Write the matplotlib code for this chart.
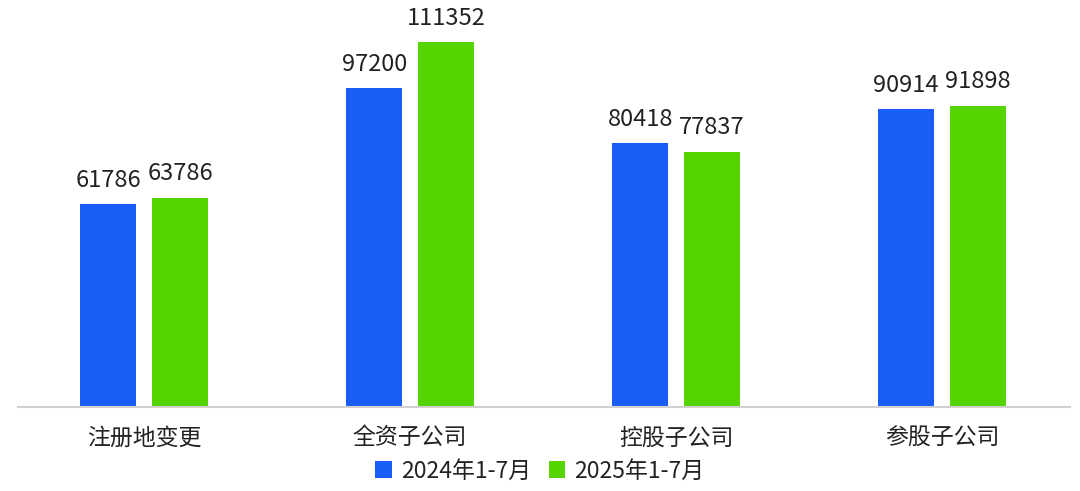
import matplotlib
matplotlib.use("Agg")
import matplotlib.pyplot as plt
import numpy as np

plt.rcParams['font.family'] = ['Noto Sans CJK SC', 'DejaVu Sans']

categories = ["注册地变更", "全资子公司", "控股子公司", "参股子公司"]
series_names = ["2024年1-7月", "2025年1-7月"]
values_2024 = [61786, 97200, 80418, 90914]
values_2025 = [63786, 111352, 77837, 91898]
colors = ["#1a5cf6", "#55d400"]

fig = plt.figure(figsize=(10.8, 4.91), dpi=100)
ax = fig.add_axes([18/1080, 84/491, (1070-18)/1080, 407/491])

x = np.arange(len(categories))
w = 0.21
off = 0.135
b1 = ax.bar(x - off, values_2024, w, color=colors[0], label=series_names[0])
b2 = ax.bar(x + off, values_2025, w, color=colors[1], label=series_names[1])

for bars, vals in ((b1, values_2024), (b2, values_2025)):
    for r, v in zip(bars, vals):
        ax.text(r.get_x() + r.get_width()/2, v + 3800, str(v), ha='center', va='bottom',
                fontsize=17, color='#222222')

ax.set_xlim(-0.474, 3.481)
ax.set_ylim(0, 124166)
ax.set_yticks([])
ax.set_xticks(x)
ax.set_xticklabels(categories, fontsize=16.5, color='#222222')
ax.tick_params(axis='x', length=0, pad=14)
for s in ['top', 'right', 'left']:
    ax.spines[s].set_visible(False)
ax.spines['bottom'].set_color('#d0d0d0')
ax.spines['bottom'].set_linewidth(1.5)

fig.legend(loc='center', bbox_to_anchor=(540/1080, 1 - 471/491), ncol=2, frameon=False,
           fontsize=16.5, handlelength=0.7, handleheight=0.7, handletextpad=0.4,
           columnspacing=0.8, labelcolor='#222222')

fig.savefig("out.png", dpi=100)
